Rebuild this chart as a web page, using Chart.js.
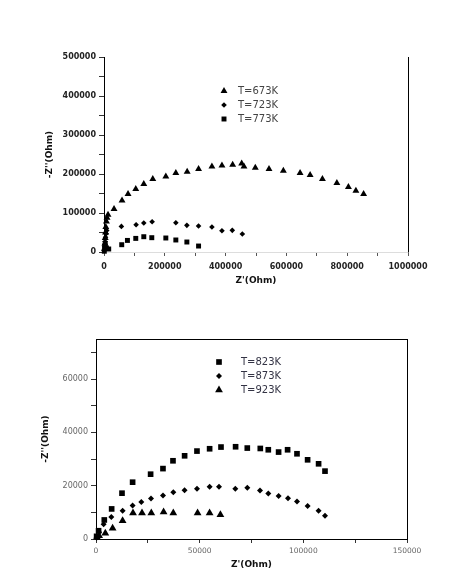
<!DOCTYPE html>
<html>
<head>
<meta charset="utf-8">
<title>Impedance plots</title>
<script src="https://cdn.jsdelivr.net/npm/chart.js@4.4.1/dist/chart.umd.min.js"></script>
<style>
    html, body { margin: 0; padding: 0; background: #fff; overflow: hidden; }
    #wrap { position: relative; width: 461px; height: 569px; }
    canvas { position: absolute; left: 0; }
    #topChart { top: 0; }
    #bottomChart { top: 300px; }
</style>
</head>
<body>
<div id="wrap">
    <canvas id="topChart" width="461" height="300"></canvas>
    <canvas id="bottomChart" width="461" height="273"></canvas>
</div>
<script>
// ---- data (Z' and -Z'' in Ohm) ----

// upper panel
const labelsTop = ['T=673K', 'T=723K', 'T=773K'];
const re673 = [2000, 3000, 4000, 5000, 6000, 8000, 10000, 13200, 33000, 59300, 79100, 104500, 130900, 160500, 203400, 236300, 273600, 311100, 355000, 388000, 423200, 452900, 460400, 497700, 542800, 590000, 645000, 678000, 718500, 766000, 804000, 828600, 854000];
const im673 = [8000, 22000, 36000, 50000, 64000, 78000, 88000, 95600, 110200, 132300, 148700, 161500, 174300, 187200, 193800, 202500, 205900, 212800, 219500, 222000, 223800, 227200, 219500, 216100, 212800, 208500, 202500, 197400, 187200, 176900, 166700, 157000, 148700];
const re723 = [1000, 2000, 3500, 5000, 7000, 9000, 57200, 105600, 130900, 158300, 236300, 272600, 311000, 355000, 388000, 422000, 455000];
const im723 = [5000, 15000, 27000, 38000, 47000, 55000, 65700, 70000, 74300, 77700, 75100, 68300, 66600, 64000, 54600, 55500, 46100];
const re773 = [1000, 2000, 3000, 4000, 8000, 15500, 58300, 77100, 104500, 130900, 157200, 203400, 236300, 272600, 311100];
const im773 = [2000, 8000, 15000, 22000, 10300, 7700, 18700, 29700, 34900, 39200, 36700, 35900, 30800, 25600, 15300];

// lower panel
const labelsBottom = ['T=823K', 'T=873K', 'T=923K'];
const re823 = [300, 1250, 4000, 7550, 12540, 17660, 26340, 32300, 37130, 42740, 48700, 54800, 60290, 67330, 72970, 79240, 83100, 88070, 92410, 96940, 102060, 107360, 110450];
const im823 = [1000, 3100, 7140, 11280, 17180, 21300, 24300, 26400, 29330, 31200, 32970, 33840, 34480, 34590, 34100, 33950, 33460, 32600, 33460, 31960, 29700, 28200, 25450];
const re873 = [300, 1500, 3670, 7380, 12830, 17650, 21850, 26520, 32310, 37280, 42730, 48710, 54790, 59320, 67190, 72970, 79100, 83100, 88070, 92600, 96940, 102060, 107360, 110450];
const im873 = [500, 2500, 5530, 8270, 10640, 12520, 13900, 15150, 16280, 17560, 18310, 18800, 19550, 19550, 18800, 19180, 18160, 17030, 16170, 15300, 14030, 12400, 10640, 8760];
const re923 = [480, 1500, 4490, 8010, 12830, 17850, 22190, 26670, 32600, 37280, 49000, 54790, 60000];
const im923 = [640, 1200, 2140, 4020, 6880, 9780, 9780, 9780, 10150, 9780, 9780, 9780, 9140];

// tick positions of the lower panel's -Z'' axis (labels on every other one)
const yTicksBottom = [0, 10000, 20000, 30000, 40000, 50000, 60000, 70000];

const toPoints = (xs, ys) => xs.map((x, i) => ({ x: x, y: ys[i] }));

function series(label, xs, ys, style, radius) {
    return {
        label: label,
        data: toPoints(xs, ys),
        pointStyle: style,
        pointRadius: radius,
        pointHoverRadius: radius,
        backgroundColor: '#000',
        borderWidth: 0,
        showLine: false,
        clip: false
    };
}

// legend drawn inside the plot area, as in the figure
const insideLegend = {
    id: 'insideLegend',
    afterDatasetsDraw(chart, args, opts) {
        const { ctx, chartArea } = chart;
        ctx.save();
        ctx.font = opts.font;
        ctx.textBaseline = 'middle';
        ctx.textAlign = 'left';
        chart.data.datasets.forEach((ds, i) => {
            const x = chartArea.left + opts.left;
            const y = chartArea.top + opts.top + i * opts.rowGap;
            ctx.fillStyle = '#000';
            Chart.helpers.drawPoint(ctx, { pointStyle: ds.pointStyle, radius: ds.pointRadius, rotation: 0, borderWidth: 0 }, x, y);
            ctx.fillStyle = opts.color;
            ctx.fillText(ds.label, x + opts.textGap, y);
        });
        ctx.restore();
    }
};

// extra frame edges (right / top)
const frame = {
    id: 'frame',
    afterDraw(chart, args, opts) {
        const { ctx, chartArea: a } = chart;
        ctx.save();
        ctx.strokeStyle = '#000';
        ctx.lineWidth = 1;
        ctx.beginPath();
        const r = Math.round(a.right) + 0.5;
        const t = Math.round(a.top) + 0.5;
        if (opts.right) { ctx.moveTo(r, a.top); ctx.lineTo(r, a.bottom + 0.5); }
        if (opts.top) { ctx.moveTo(a.left, t); ctx.lineTo(r, t); }
        ctx.stroke();
        ctx.restore();
    }
};

const titleFont = { family: "'DejaVu Sans', sans-serif", size: 9, weight: 'bold' };

// ---- upper chart ----
new Chart(document.getElementById('topChart'), {
    type: 'scatter',
    data: {
        datasets: [
            series(labelsTop[0], re673, im673, 'triangle', 4),
            series(labelsTop[1], re723, im723, 'rectRot', 2.8),
            series(labelsTop[2], re773, im773, 'rect', 3.5)
        ]
    },
    options: {
        responsive: false,
        animation: false,
        events: [],
        layout: { padding: { top: 57, right: 53, left: 0, bottom: 0 } },
        plugins: {
            legend: { display: false },
            tooltip: { enabled: false },
            insideLegend: { left: 120, top: 34, rowGap: 14, textGap: 14, color: '#444', font: "10px 'DejaVu Sans', sans-serif" },
            frame: { right: true }
        },
        scales: {
            x: {
                type: 'linear',
                min: 0,
                max: 1000000,
                afterFit: s => { s.height = 48; },
                border: { color: '#ddd' },
                grid: { drawOnChartArea: false, tickLength: 4, color: '#555' },
                ticks: {
                    stepSize: 100000,
                    autoSkip: false,
                    maxRotation: 0,
                    padding: 6,
                    color: '#222',
                    font: { family: "'DejaVu Sans', sans-serif", size: 8, weight: 'bold' },
                    callback: v => (v % 200000 === 0 ? String(v) : '')
                },
                title: { display: true, text: "Z'(Ohm)", color: '#111', font: titleFont, padding: { top: 0, bottom: 14 } }
            },
            y: {
                min: 0,
                max: 500000,
                afterFit: s => { s.width = 104; },
                border: { color: '#000' },
                grid: { drawOnChartArea: false, tickLength: 5, color: '#333' },
                ticks: {
                    stepSize: 50000,
                    autoSkip: false,
                    padding: 3,
                    color: '#222',
                    font: { family: "'DejaVu Sans', sans-serif", size: 8, weight: 'bold' },
                    callback: v => (v % 100000 === 0 ? String(v) : '')
                },
                title: { display: true, text: "-Z''(Ohm)", color: '#111', font: titleFont, padding: { top: 44, bottom: 0 } }
            }
        }
    },
    plugins: [insideLegend, frame]
});

// ---- lower chart ----
new Chart(document.getElementById('bottomChart'), {
    type: 'scatter',
    data: {
        datasets: [
            series(labelsBottom[0], re823, im823, 'rect', 4),
            series(labelsBottom[1], re873, im873, 'rectRot', 3),
            series(labelsBottom[2], re923, im923, 'triangle', 4.5)
        ]
    },
    options: {
        responsive: false,
        animation: false,
        events: [],
        layout: { padding: { top: 39, right: 54, left: 0, bottom: 0 } },
        plugins: {
            legend: { display: false },
            tooltip: { enabled: false },
            insideLegend: { left: 123, top: 23, rowGap: 14, textGap: 22, color: '#334', font: "10px 'DejaVu Sans', sans-serif" },
            frame: { right: true, top: true }
        },
        scales: {
            x: {
                type: 'linear',
                min: 0,
                max: 150000,
                afterFit: s => { s.height = 34; },
                border: { color: '#000' },
                grid: { drawOnChartArea: false, tickLength: 4, color: '#333' },
                ticks: {
                    stepSize: 25000,
                    autoSkip: false,
                    maxRotation: 0,
                    padding: 4,
                    color: '#666',
                    font: { family: "'DejaVu Sans', sans-serif", size: 7.5 },
                    callback: v => (v % 50000 === 0 ? String(v) : '')
                },
                title: { display: true, text: "Z'(Ohm)", color: '#111', font: titleFont, padding: { top: 0, bottom: 3 } }
            },
            y: {
                min: 0,
                max: 75000,
                afterFit: s => { s.width = 96; },
                afterBuildTicks: s => { s.ticks = yTicksBottom.map(v => ({ value: v })); },
                border: { color: '#000' },
                grid: { drawOnChartArea: false, tickLength: 5, color: '#333' },
                ticks: {
                    autoSkip: false,
                    padding: 3,
                    color: '#666',
                    font: { family: "'DejaVu Sans', sans-serif", size: 8 },
                    callback: v => (v % 20000 === 0 ? String(v) : '')
                },
                title: { display: true, text: "-Z''(Ohm)", color: '#111', font: titleFont, padding: { top: 40, bottom: 0 } }
            }
        }
    },
    plugins: [insideLegend, frame]
});
</script>
</body>
</html>
